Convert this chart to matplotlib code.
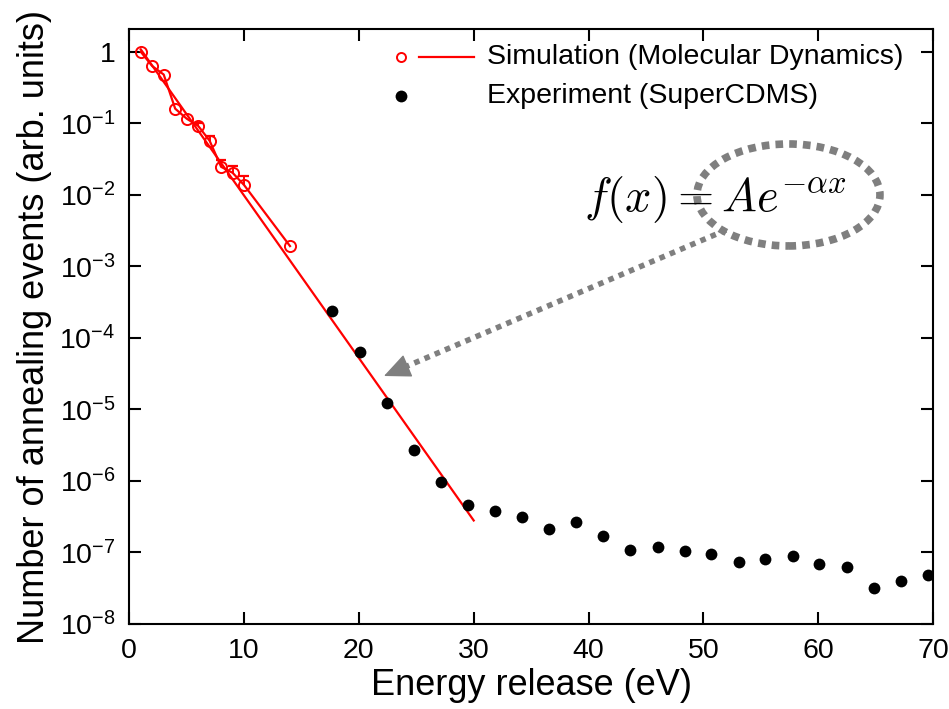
# -*- coding: utf-8 -*-
# annealing events vs energy release, simulation + SuperCDMS experiment

import numpy as np
import matplotlib
matplotlib.use('Agg')
import matplotlib.pyplot as plt
from matplotlib.patches import Ellipse

plt.rcParams['font.family'] = ['Liberation Sans', 'DejaVu Sans']
plt.rcParams['mathtext.fontset'] = 'custom'
plt.rcParams['mathtext.rm'] = 'Liberation Sans'
plt.rcParams['mathtext.it'] = 'Liberation Sans:italic'
plt.rcParams['mathtext.bf'] = 'Liberation Sans:bold'

# simulation (molecular dynamics)
sim_x = [1, 2, 3, 4, 5, 6, 7, 8, 9, 10, 14]
sim_y = [1.0, 0.63, 0.48, 0.16, 0.116, 0.092, 0.057, 0.0246, 0.0203, 0.0137, 0.00192]
sim_err_up = [0, 0, 0, 0, 0, 0.009, 0.009, 0.006, 0.005, 0.0046, 0]

# exponential fit, end points
fit_x = [1, 30]
fit_y = [1.08, 2.8e-7]

# experiment (SuperCDMS)
exp_x = [17.70, 20.08, 22.45, 24.78, 27.15, 29.54, 31.89, 34.24, 36.55, 38.94,
         41.25, 43.64, 46.01, 48.36, 50.71, 53.09, 55.41, 57.79, 60.11, 62.49,
         64.84, 67.19, 69.54]
exp_y = [2.36e-4, 6.37e-5, 1.21e-5, 2.75e-6, 9.7e-7, 4.68e-7, 3.80e-7, 3.17e-7,
         2.16e-7, 2.67e-7, 1.69e-7, 1.07e-7, 1.21e-7, 1.04e-7, 9.65e-8, 7.3e-8,
         8.0e-8, 8.85e-8, 6.8e-8, 6.35e-8, 3.23e-8, 4.05e-8, 4.8e-8]

xticks = [0, 10, 20, 30, 40, 50, 60, 70]
ytick_exp = [0, -1, -2, -3, -4, -5, -6, -7, -8]

red = '#ff0000'
grey = '#7f7f7f'

fig = plt.figure(figsize=(9.49, 7.09), dpi=100)
ax = fig.add_axes([0.1362, 0.1199, 0.8469, 0.8388])

# 拟合线 + 模拟
ax.plot(fit_x, fit_y, '-', color=red, lw=1.6, zorder=3)
ax.plot(sim_x, sim_y, '-', color=red, lw=1.6, zorder=3)
ax.plot(sim_x, sim_y, 'o', mfc='none', mec=red, mew=1.4, ms=8, zorder=4)
for x, y, e in zip(sim_x, sim_y, sim_err_up):
    if e > 0:
        ax.vlines(x, y, y + e, color=red, lw=1.4, zorder=4)
        ax.plot([x], [y + e], '_', color=red, ms=7, mew=1.6, zorder=4)

# 实验
ax.plot(exp_x, exp_y, 'o', color='black', ms=8.5, mew=0, zorder=5)

ax.set_yscale('log')
ax.set_xlim(0, 70)
ax.set_ylim(1e-8, 2.06)
ax.set_xticks(xticks)
ax.set_xticklabels([str(t) for t in xticks])
ax.set_yticks([10.0 ** e for e in ytick_exp])
ax.set_yticklabels(['1' if e == 0 else r'$\mathregular{10^{%d}}$' % e for e in ytick_exp])
ax.yaxis.set_minor_locator(matplotlib.ticker.NullLocator())
ax.tick_params(which='major', direction='in', length=8.5, width=1.5,
               top=True, right=True, labelsize=20.5, pad=10)
for s in ax.spines.values():
    s.set_linewidth(1.5)

ax.set_xlabel('Energy release (eV)', fontsize=26, labelpad=3)
ax.set_ylabel('Number of annealing events (arb. units)', fontsize=26, labelpad=5)

# legend (gnuplot style, drawn by hand)
tr = ax.transAxes
ax.plot([0.3387], [0.9534], 'o', mfc='none', mec=red, mew=1.4, ms=6.5, transform=tr, clip_on=False)
ax.plot([0.361, 0.4289], [0.9534, 0.9534], '-', color=red, lw=1.6, transform=tr, clip_on=False)
ax.plot([0.3387], [0.8872], 'o', color='black', ms=8.5, mew=0, transform=tr, clip_on=False)
ax.text(0.4446, 0.9534, 'Simulation (Molecular Dynamics)', transform=tr,
        fontsize=20.5, va='center', ha='left')
ax.text(0.4446, 0.8872, 'Experiment (SuperCDMS)', transform=tr,
        fontsize=20.5, va='center', ha='left')

# formula with dotted ellipse and arrow
ax.text(0.566, 0.6945, r'$f(x) = Ae^{-\alpha x}$', transform=tr, fontsize=33.5,
        math_fontfamily='cm', va='baseline', ha='left')
ax.add_patch(Ellipse((0.8202, 0.7214), 0.2277, 0.1715, transform=tr, fill=False,
                     edgecolor=grey, lw=5.5, linestyle=(0, (1, 0.8))))
# dotted shaft, then a solid head at the end
ax.plot([0.7425, 0.342], [0.6625, 0.4315], color=grey, lw=4,
        linestyle=(0, (1, 1)), transform=tr, clip_on=False)
ax.annotate('', xy=(0.3169, 0.417), xytext=(0.342, 0.4315), xycoords=tr, textcoords=tr,
            arrowprops=dict(arrowstyle='-|>,head_length=1.0,head_width=0.45', color=grey,
                            lw=1, mutation_scale=17, shrinkA=0, shrinkB=0))

plt.savefig('out.png', dpi=100)
